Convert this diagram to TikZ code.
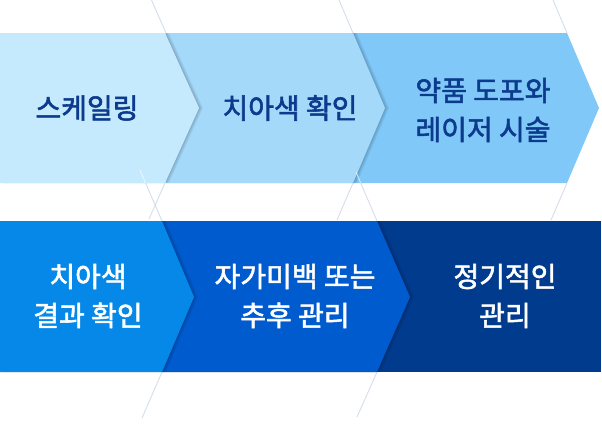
\documentclass[tikz,border=0pt]{standalone}
\usepackage{fontspec}
\newfontfamily\kr{Noto Sans CJK KR}[FakeBold=2]
\definecolor{tA}{RGB}{197,234,254}
\definecolor{tB}{RGB}{165,217,250}
\definecolor{tC}{RGB}{128,200,248}
\definecolor{bA}{RGB}{5,136,232}
\definecolor{bB}{RGB}{0,91,207}
\definecolor{bC}{RGB}{0,59,142}
\definecolor{navy}{RGB}{12,58,140}
\definecolor{streak}{RGB}{170,188,215}
\tikzset{
  lbl/.style={font=\kr\fontsize{28}{39}\selectfont, align=center, inner sep=0pt},
  toplbl/.style={lbl, text=navy},
  botlbl/.style={lbl, text=white},
  shade/.style={fill=black, fill opacity=0.05, draw=none},
  streakline/.style={draw=streak, line width=0.9pt, opacity=0.5},
  glint/.style={draw=white, line width=1pt, opacity=0.6}
}
\begin{document}
\begin{tikzpicture}[x=1pt,y=-1pt]
\useasboundingbox (0,0) rectangle (602,426);
% ---------- streaks (behind) ----------
\draw[streakline] (151.5,0) -- (166,33);
\draw[streakline] (339,0) -- (353,33);
\draw[streakline] (553,0) -- (567,33);
\draw[streakline] (165,183) -- (149,219);
\draw[streakline] (353,183) -- (337,220);
\draw[streakline] (567,183) -- (551,220);
\draw[streakline] (162,221) -- (140,170);
\draw[streakline] (377,221) -- (356,172);
\draw[streakline] (162,372) -- (142,418);
\draw[streakline] (377,372) -- (357,417);
% ---------- top row ----------
\path[fill=tC] (353,33) -- (567,33) -- (599,108) -- (567,183) -- (353,183) -- cycle;
\foreach \s in {1,2,3,4}
  \path[shade,xshift=\s pt] (166,33) -- (353,33) -- (385,108) -- (353,183) -- (166,183) -- cycle;
\path[fill=tB] (166,33) -- (353,33) -- (385,108) -- (353,183) -- (166,183) -- cycle;
\foreach \s in {1,2,3,4}
  \path[shade,xshift=\s pt] (0,33) -- (165,33) -- (199,108) -- (165,183) -- (0,183) -- cycle;
\path[fill=tA] (0,33) -- (165,33) -- (199,108) -- (165,183) -- (0,183) -- cycle;
\draw[glint] (140,170) -- (145.5,183);
\draw[glint] (356,172) -- (360.7,183);
% ---------- bottom row ----------
\path[fill=bC] (377,221) -- (601,221) -- (601,372) -- (377,372) -- cycle;
\foreach \s in {1,2,3,4}
  \path[shade,xshift=\s pt] (162,221) -- (377,221) -- (410,297) -- (377,372) -- (162,372) -- cycle;
\path[fill=bB] (162,221) -- (377,221) -- (410,297) -- (377,372) -- (162,372) -- cycle;
\foreach \s in {1,2,3,4}
  \path[shade,xshift=\s pt] (0,221) -- (162,221) -- (194,297) -- (162,372) -- (0,372) -- cycle;
\path[fill=bA] (0,221) -- (162,221) -- (194,297) -- (162,372) -- (0,372) -- cycle;
% ---------- labels ----------
\node[toplbl] (t1) at (87,108) {스케일링};
\node[toplbl] (t2) at (290,108) {치아색 확인};
\node[toplbl] (t3) at (483,110) {약품 도포와\\레이저 시술};
\node[botlbl] (b1) at (88,296) {치아색\\결과 확인};
\node[botlbl] (b2) at (295,296) {자가미백 또는\\추후 관리};
\node[botlbl] (b3) at (505,296) {정기적인\\관리};
\end{tikzpicture}
\end{document}
